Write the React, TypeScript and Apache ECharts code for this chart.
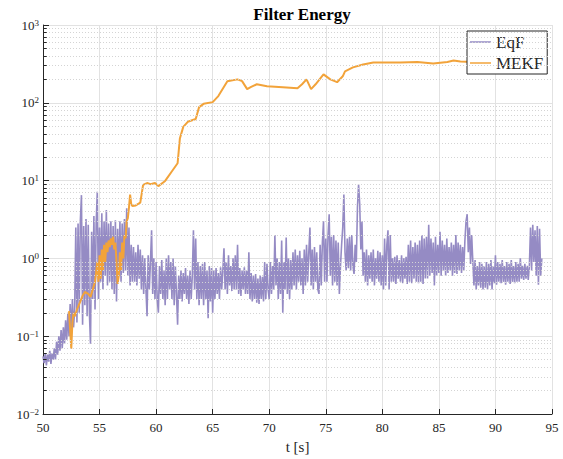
import React, { useEffect, useRef } from "react";
import * as echarts from "echarts";

const FONT = "'Liberation Serif', 'Times New Roman', serif";
const seriesNames = ["EqF", "MEKF"];
const seriesColors = ["#958bc4", "#f2a33a"];

// EqF: sampled every 0.1 s from t = 50.0 s
const eqfStart = 50;
const eqfStep = 0.1;
const eqfValues = [
  0.055, 0.045, 0.06, 0.042, 0.058, 0.047, 0.065, 0.044, 0.06, 0.05,
  0.07, 0.05, 0.085, 0.058, 0.1, 0.065, 0.12, 0.07, 0.13, 0.08,
  0.16, 0.09, 0.2, 0.1, 0.26, 0.11, 0.3, 0.13, 0.22, 2.5,
  0.15, 2.8, 0.2, 3.0, 6.5, 0.14, 2.6, 0.25, 3.2, 0.18,
  2.7, 0.2, 0.08, 2.2, 0.3, 3.5, 0.22, 2.8, 7.2, 0.3,
  2.5, 0.5, 3.8, 0.4, 3.0, 0.6, 4.2, 0.45, 2.8, 0.5,
  3.0, 0.4, 2.6, 0.35, 3.1, 0.28, 2.4, 0.6, 3.0, 0.5,
  2.8, 0.65, 3.2, 0.7, 4.4, 0.6, 2.5, 0.45, 1.5, 0.5,
  1.4, 0.5, 1.2, 0.45, 1.5, 0.55, 1.3, 0.4, 1.1, 0.35,
  1.0, 0.4, 0.18, 1.1, 0.4, 0.9, 2.3, 0.35, 1.0, 0.3,
  0.9, 0.3, 0.2, 0.8, 0.35, 0.95, 0.3, 0.7, 0.25, 1.0,
  0.3, 1.1, 0.4, 0.9, 0.3, 1.0, 0.25, 0.8, 0.35, 0.14,
  0.6, 0.3, 0.7, 0.28, 0.65, 0.35, 0.75, 0.3, 0.6, 0.26,
  0.7, 0.3, 0.6, 2.3, 0.4, 1.8, 0.3, 0.9, 0.25, 0.8,
  0.3, 0.85, 0.25, 0.9, 0.3, 0.7, 0.17, 0.8, 0.28, 0.75,
  0.2, 0.7, 0.3, 0.75, 0.35, 0.65, 0.3, 0.77, 0.4, 0.7,
  1.35, 0.4, 0.9, 0.35, 1.1, 0.45, 0.8, 0.38, 1.0, 0.4,
  1.1, 0.4, 1.5, 0.35, 0.75, 0.33, 0.7, 0.4, 0.77, 0.35,
  0.7, 0.35, 1.2, 0.3, 0.65, 0.28, 0.6, 0.3, 0.63, 0.27,
  0.55, 0.26, 0.6, 0.3, 0.58, 0.28, 0.9, 0.3, 0.85, 0.4,
  0.3, 0.9, 0.35, 0.8, 0.4, 2.0, 0.45, 1.0, 0.3, 0.9,
  0.35, 1.7, 0.2, 0.9, 0.4, 1.85, 0.35, 1.0, 0.3, 0.95,
  0.4, 1.2, 0.45, 1.3, 0.4, 1.1, 0.5, 1.25, 0.45, 1.0,
  0.35, 1.3, 0.45, 1.5, 0.5, 1.2, 2.5, 0.45, 1.3, 0.4,
  1.4, 0.5, 1.2, 0.4, 0.35, 1.5, 0.45, 1.6, 3.0, 0.5,
  1.8, 0.5, 2.0, 3.7, 0.6, 1.9, 0.45, 2.0, 0.5, 1.7,
  0.45, 1.6, 0.35, 0.8, 1.5, 2.5, 6.6, 1.2, 0.7, 1.8,
  0.75, 1.9, 0.7, 2.0, 0.8, 0.63, 1.5, 0.9, 4.5, 8.9,
  5.0, 1.3, 3.0, 0.6, 1.2, 0.5, 1.3, 0.45, 1.1, 0.55,
  1.2, 0.5, 1.3, 0.45, 1.0, 0.55, 1.25, 0.5, 1.2, 0.45,
  1.1, 0.4, 1.8, 0.45, 1.5, 2.3, 0.4, 2.0, 0.5, 1.0,
  0.5, 1.05, 0.47, 1.1, 0.55, 0.95, 0.5, 1.1, 0.48, 1.0,
  0.55, 1.05, 0.47, 1.5, 0.5, 1.7, 0.48, 1.4, 0.55, 1.6,
  0.5, 1.5, 0.48, 1.7, 0.5, 2.0, 0.47, 1.8, 0.55, 1.9,
  0.55, 2.7, 0.6, 1.8, 0.65, 1.6, 0.45, 1.9, 0.6, 1.5,
  0.65, 2.2, 0.6, 1.7, 0.7, 1.5, 0.6, 1.8, 0.65, 1.4,
  0.7, 1.6, 0.6, 1.5, 0.65, 2.0, 0.63, 1.6, 0.7, 1.5,
  0.65, 1.4, 0.7, 1.7, 3.0, 3.7, 1.2, 2.5, 0.85, 2.0,
  0.9, 0.45, 0.95, 0.4, 0.8, 0.45, 0.9, 0.42, 0.85, 0.4,
  0.8, 0.42, 0.9, 0.4, 0.85, 0.45, 0.95, 0.4, 0.8, 0.48,
  1.1, 0.46, 0.9, 0.5, 0.85, 0.48, 0.95, 0.5, 0.8, 0.46,
  0.9, 0.5, 0.85, 0.47, 0.95, 0.5, 0.8, 0.48, 0.9, 0.5,
  0.85, 0.5, 1.0, 0.55, 0.8, 0.53, 0.85, 0.55, 0.8, 0.53,
  0.8, 2.5, 0.7, 2.7, 0.9, 2.3, 0.6, 2.6, 0.46, 2.4,
  0.6, 1.0,
];

// MEKF: times (s) and energy
const mekfTimes = [
  52.3, 52.4, 52.5, 52.6, 52.7, 52.8, 53.0, 53.3, 53.5, 53.7, 54.0, 54.2, 54.4, 54.6,
  54.8, 54.9, 55.0, 55.1, 55.2, 55.3, 55.4, 55.5, 55.6, 55.7, 55.8, 55.9, 56.0, 56.1,
  56.2, 56.3, 56.4, 56.5, 56.6, 56.7, 56.8, 56.9, 57.0, 57.1, 57.2, 57.3, 57.4, 57.5,
  57.6, 57.7, 57.8, 57.9, 58.2, 58.6, 58.85, 59.2, 59.5, 59.9, 60.2, 60.8, 61.4, 61.9,
  62.1, 62.4, 62.8, 63.5, 63.8, 64.2, 65.0, 65.5, 66.3, 67.2, 67.6, 68.05, 68.4, 68.9,
  69.8, 71.2, 72.5, 72.9, 73.3, 73.7, 74.1, 74.8, 75.4, 76.0, 76.5, 76.7, 77.4, 78.3,
  79.2, 80.1, 81.6, 83.1, 84.5, 85.75, 86.3, 86.9, 88.0, 90.0, 92.0, 94.0,
];
const mekfValues = [
  0.21, 0.12, 0.069, 0.15, 0.2, 0.18, 0.22, 0.28, 0.33, 0.37, 0.35, 0.32, 0.4, 0.5,
  0.9, 0.5, 1.1, 0.55, 1.3, 0.7, 1.5, 0.9, 1.6, 1.2, 1.7, 1.4, 1.8, 1.5,
  1.9, 1.3, 1.6, 0.9, 0.47, 0.6, 1.2, 0.7, 1.6, 1.0, 2.0, 1.8, 3.0, 3.3,
  4.5, 6.6, 5.0, 4.7, 4.8, 5.2, 8.8, 9.3, 9.0, 9.3, 8.5, 9.9, 13.2, 16.7,
  34.7, 49, 57, 62, 88, 97, 102, 122, 189, 200, 190, 150, 160, 173,
  163, 159, 154, 173, 200, 150, 173, 232, 200, 184, 219, 253, 285, 311,
  329, 329, 329, 335, 320, 335, 349, 339, 335, 340, 345, 340,
];

const xMin = 50;
const xMax = 95;
const xInterval = 5;
const yMin = 0.01;
const yMax = 1000;
const minorMantissas = [2, 3, 4, 5, 6, 7, 8, 9];
const decadeExponents = [-2, -1, 0, 1, 2];

export default function App() {
  const ref = useRef<HTMLDivElement>(null);
  useEffect(() => {
    if (!ref.current) return;
    const chart = echarts.init(ref.current, undefined, { renderer: "svg" });
    const eqfData = eqfValues.map((v, i) => [+(eqfStart + i * eqfStep).toFixed(2), v]);
    const mekfData = mekfTimes.map((t, i) => [t, mekfValues[i]]);
    const minorVals: number[] = [];
    decadeExponents.forEach((e) =>
      minorMantissas.forEach((m) => minorVals.push(+(m * Math.pow(10, e)).toPrecision(3)))
    );
    const axisColor = "#262626";
    const option: any = {
      animation: false,
      backgroundColor: "#ffffff",
      title: {
        text: "Filter Energy",
        left: 297,
        top: 1,
        textAlign: "center",
        textStyle: { fontFamily: FONT, fontWeight: "bold", fontSize: 17, color: "#000" },
      },
      grid: { left: 43, right: 11, top: 25, bottom: 40, containLabel: false },
      legend: {
        data: seriesNames,
        orient: "vertical",
        left: 467,
        top: 31,
        icon: "rect",
        itemWidth: 21,
        itemHeight: 1.5,
        itemGap: 1,
        padding: [1, 4, 1, 3],
        borderColor: axisColor,
        borderWidth: 1,
        backgroundColor: "#ffffff",
        textStyle: { fontFamily: FONT, fontSize: 17, color: axisColor, lineHeight: 20 },
      },
      xAxis: {
        type: "value",
        min: xMin,
        max: xMax,
        interval: xInterval,
        name: "t [s]",
        nameLocation: "middle",
        nameGap: 25,
        nameTextStyle: { fontFamily: FONT, fontSize: 15, color: axisColor },
        axisLine: { show: true, onZero: false, lineStyle: { color: axisColor, width: 1 } },
        axisTick: { show: true, inside: true, length: 5, lineStyle: { color: axisColor } },
        axisLabel: { fontFamily: FONT, fontSize: 13, color: axisColor, margin: 7 },
        splitLine: { show: true, lineStyle: { color: "#e2e2e2", width: 1 } },
      },
      yAxis: {
        type: "log",
        logBase: 10,
        min: yMin,
        max: yMax,
        splitNumber: 5,
        axisLine: { show: true, onZero: false, lineStyle: { color: axisColor, width: 1 } },
        axisTick: { show: true, inside: true, length: 6, lineStyle: { color: axisColor } },
        minorTick: { show: false },
        axisLabel: {
          margin: 4,
          formatter: (v: number) => {
            const e = Math.round(Math.log10(v));
            return `{b|10}{e|${e < 0 ? "\u2212" + -e : e}}`;
          },
          rich: {
            b: { fontFamily: FONT, fontSize: 13, color: axisColor, lineHeight: 14, verticalAlign: "middle" },
            e: { fontFamily: FONT, fontSize: 9, color: axisColor, lineHeight: 10, padding: [0, 0, 8, 0], verticalAlign: "top" },
          },
        },
        splitLine: { show: true, lineStyle: { color: "#e2e2e2", width: 1 } },
      },
      series: [
        {
          type: "line",
          name: "__grid",
          data: [[xMin, 1]],
          showSymbol: false,
          silent: true,
          z: 1,
          lineStyle: { opacity: 0 },
          markLine: {
            silent: true,
            symbol: "none",
            animation: false,
            label: { show: false },
            lineStyle: { color: "#d4d4d4", type: [1, 2], width: 1 },
            data: minorVals.map((v) => ({ yAxis: v })),
          },
        },
        {
          type: "line",
          name: "__ticks",
          data: [[xMin, 1]],
          showSymbol: false,
          silent: true,
          z: 5,
          lineStyle: { opacity: 0 },
          markLine: {
            silent: true,
            symbol: "none",
            animation: false,
            label: { show: false },
            lineStyle: { color: axisColor, type: "solid", width: 1 },
            data: minorVals.map((v) => [{ coord: [xMin, v] }, { coord: [xMin + 0.33, v] }]),
          },
        },
        {
          type: "line",
          name: seriesNames[0],
          data: eqfData,
          showSymbol: false,
          z: 2,
          color: seriesColors[0],
          lineStyle: { color: seriesColors[0], width: 1.6, join: "miter" },
        },
        {
          type: "line",
          name: seriesNames[1],
          data: mekfData,
          showSymbol: false,
          z: 3,
          color: seriesColors[1],
          lineStyle: { color: seriesColors[1], width: 2 },
        },
      ],
    };
    chart.setOption(option);
    return () => chart.dispose();
  }, []);
  return (
    <div
      ref={ref}
      style={{ position: "fixed", left: 0, top: 0, width: 563, height: 459, background: "#fff" }}
    />
  );
}
